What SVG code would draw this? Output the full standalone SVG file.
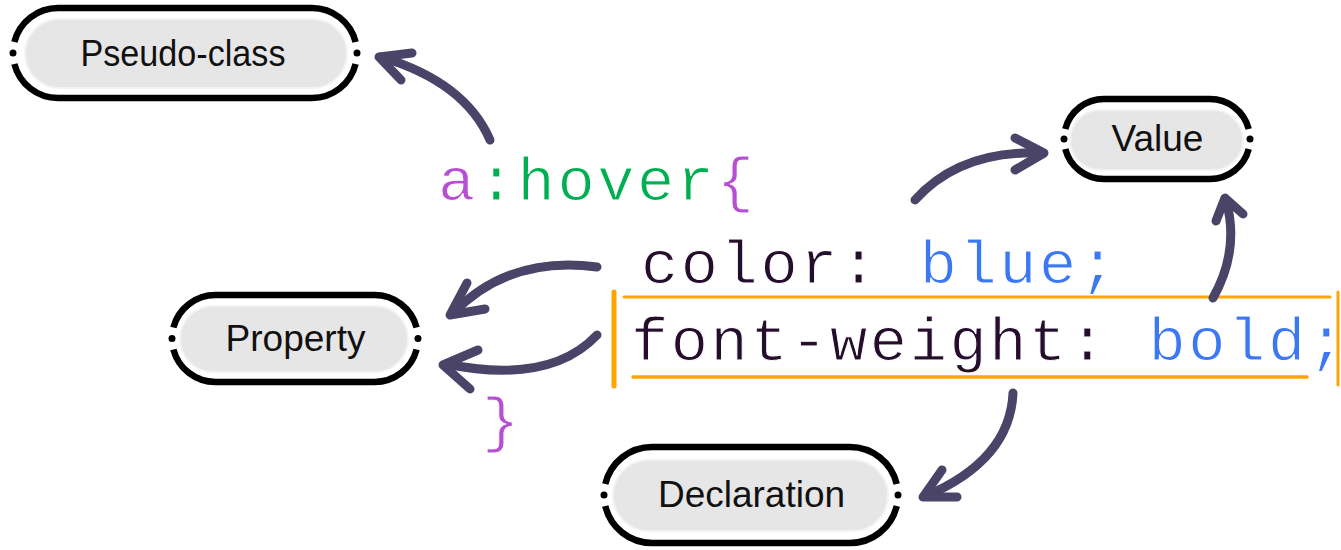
<svg xmlns="http://www.w3.org/2000/svg" width="1341" height="550" viewBox="0 0 1341 550">
<style>
.ring{fill:none;stroke:#000;stroke-width:6.5;stroke-linecap:butt}
.pill{fill:#e6e6e6;stroke:#f3f3f3;stroke-width:2}
.dot{fill:#000}
.lbl{font-family:"Liberation Sans",Arial,sans-serif;font-size:37px;text-anchor:middle;fill:#111}
.code{font-family:"Liberation Mono","Courier New",monospace;font-size:62px;letter-spacing:2.6px;stroke:#fff;stroke-width:1}
.arr{fill:none;stroke:#4a4469;stroke-width:9;stroke-linecap:round;stroke-linejoin:round}
.org{stroke:#ffa500;stroke-linecap:round;fill:none}
</style>
<rect width="1341" height="550" fill="#fff"/>
<g id="node-pseudo-class">
<rect class="pill" x="25" y="19" width="322" height="69" rx="34.5"/>
<path class="ring" d="M14.4 42 A45 45 0 0 1 58 8 L312 8 A45 45 0 0 1 355.6 42"/>
<path class="ring" d="M355.6 64 A45 45 0 0 1 312 98 L58 98 A45 45 0 0 1 14.4 64"/>
<circle class="dot" cx="13" cy="53" r="3.5"/><circle class="dot" cx="357" cy="53" r="3.5"/>
<text class="lbl" x="183" y="66" textLength="205" lengthAdjust="spacingAndGlyphs">Pseudo-class</text>
</g>
<g id="node-property">
<rect class="pill" x="180" y="306" width="228" height="66" rx="33"/>
<path class="ring" d="M173.4 327.5 A43.5 43.5 0 0 1 215.5 295 L374.5 295 A43.5 43.5 0 0 1 416.6 327.5"/>
<path class="ring" d="M416.6 349.5 A43.5 43.5 0 0 1 374.5 382 L215.5 382 A43.5 43.5 0 0 1 173.4 349.5"/>
<circle class="dot" cx="172" cy="338.5" r="3.5"/><circle class="dot" cx="418" cy="338.5" r="3.5"/>
<text class="lbl" x="295.5" y="351">Property</text>
</g>
<g id="node-declaration">
<rect class="pill" x="613" y="460" width="275" height="71" rx="35.5"/>
<path class="ring" d="M605.3 484 A48 48 0 0 1 652 447 L850 447 A48 48 0 0 1 896.7 484"/>
<path class="ring" d="M896.7 506 A48 48 0 0 1 850 543 L652 543 A48 48 0 0 1 605.3 506"/>
<circle class="dot" cx="604" cy="495" r="3.5"/><circle class="dot" cx="898" cy="495" r="3.5"/>
<text class="lbl" x="751.5" y="507">Declaration</text>
</g>
<g id="node-value">
<rect class="pill" x="1070" y="110" width="173" height="60" rx="30"/>
<path class="ring" d="M1065.3 129 A40 40 0 0 1 1104 99 L1210 99 A40 40 0 0 1 1248.7 129"/>
<path class="ring" d="M1248.7 149 A40 40 0 0 1 1210 179 L1104 179 A40 40 0 0 1 1065.3 149"/>
<circle class="dot" cx="1064" cy="139" r="3.5"/><circle class="dot" cx="1250" cy="139" r="3.5"/>
<text class="lbl" x="1157.5" y="151">Value</text>
</g>
<g id="code">
<text class="code" x="438" y="200"><tspan fill="#b74fd4">a</tspan><tspan fill="#00b050">:hover</tspan><tspan fill="#b74fd4">{</tspan></text>
<text class="code" x="641" y="283"><tspan fill="#250e2c">color: </tspan><tspan fill="#3b78f2">blue;</tspan></text>
<text class="code" x="631" y="360" letter-spacing="2.3"><tspan fill="#250e2c">font-weight: </tspan><tspan fill="#3b78f2">bold</tspan><tspan fill="#3b78f2" letter-spacing="0">;</tspan></text>
<text class="code" x="482" y="440" fill="#b74fd4">}</text>
</g>
<g id="highlight">
<line class="org" x1="614" y1="292" x2="614" y2="386" stroke-width="5"/>
<line class="org" x1="624" y1="297" x2="1330" y2="297" stroke-width="3"/>
<line class="org" x1="633" y1="377" x2="1307" y2="377" stroke-width="3.5"/>
<line class="org" x1="1338" y1="292" x2="1338" y2="385" stroke-width="3"/>
</g>
<g id="connectors">
<path class="arr" d="M490 140 Q465 82 381 57"/>
<polyline class="arr" points="412,53 379,57 401,80"/>
<path class="arr" d="M915 200 Q960 150 1041 153"/>
<polyline class="arr" points="1015,138 1044,153 1015,170"/>
<path class="arr" d="M1213 298 Q1240 250 1226 200"/>
<polyline class="arr" points="1216,221 1225,198 1243,214"/>
<path class="arr" d="M597 267 Q510 255 453 313"/>
<polyline class="arr" points="467,283 450,315 485,309"/>
<path class="arr" d="M597 335 Q550 385 446 364"/>
<polyline class="arr" points="478,350 443,365 470,389"/>
<path class="arr" d="M1013 393 Q1010 460 926 496"/>
<polyline class="arr" points="942,470 923,497 957,497"/>
</g>
</svg>
